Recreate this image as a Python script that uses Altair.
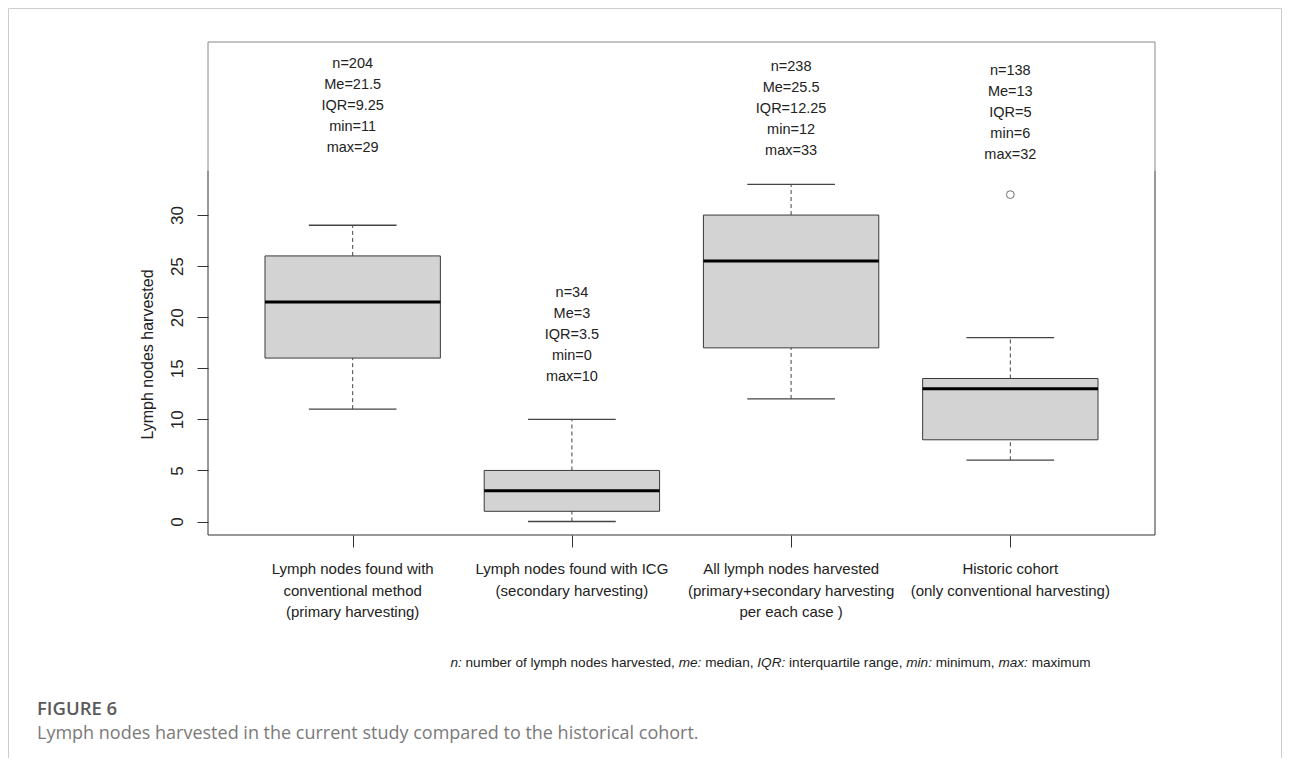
import altair as alt
import pandas as pd

# ---------------- data ----------------
categories = [
    ["Lymph nodes found with", "conventional method", "(primary harvesting)"],
    ["Lymph nodes found with ICG", "(secondary harvesting)"],
    ["All lymph nodes harvested", "(primary+secondary harvesting", "per each case )"],
    ["Historic cohort", "(only conventional harvesting)"],
]
positions = [1, 2, 3, 4]
whisker_low = [11, 0, 12, 6]
q1 = [16, 1, 17, 8]
median = [21.5, 3, 25.5, 13]
q3 = [26, 5, 30, 14]
whisker_high = [29, 10, 33, 18]
outlier_pos = [4]
outlier_val = [32]
n_vals = ["204", "34", "238", "138"]
me_vals = ["21.5", "3", "25.5", "13"]
iqr_vals = ["9.25", "3.5", "12.25", "5"]
min_vals = ["11", "0", "12", "6"]
max_vals = ["29", "10", "33", "32"]
y_ticks = [0, 5, 10, 15, 20, 25, 30]
footnote = [("n:", True), ("number of lymph nodes harvested,", False),
            ("me:", True), ("median,", False),
            ("IQR:", True), ("interquartile range,", False),
            ("min:", True), ("minimum,", False),
            ("max:", True), ("maximum", False)]
fig_label = "FIGURE 6"
caption = "Lymph nodes harvested in the current study compared to the historical cohort."
y_title = "Lymph nodes harvested"

# ---------------- layout / style ----------------
W, H = 947, 493
BOX_HALF, CAP_HALF = 0.4, 0.2
REG = "Liberation Sans, Arial, sans-serif"
ann_top = [14.5, 243.5, 17.5, 21.5]
FOOT_SIZE = 13.6
foot_center = 562.5
foot_y = 621

# Arial / Liberation Sans advance widths (per 1000 em) for footnote layout
_w = {'a': 556, 'b': 556, 'c': 500, 'd': 556, 'e': 556, 'f': 278, 'g': 556, 'h': 556,
      'i': 222, 'j': 222, 'k': 500, 'l': 222, 'm': 833, 'n': 556, 'o': 556, 'p': 556,
      'q': 556, 'r': 333, 's': 500, 't': 278, 'u': 556, 'v': 500, 'w': 722, 'x': 500,
      'y': 500, 'z': 500, ' ': 278, ',': 278, ':': 278, '.': 278, 'I': 278, 'Q': 778,
      'R': 722}


def text_width(s, size):
    return sum(_w.get(ch, 556) for ch in s) * size / 1000.0


space_w = text_width(" ", FOOT_SIZE)
seg_w = [text_width(t, FOOT_SIZE) for t, _ in footnote]
total_w = sum(seg_w) + space_w * (len(footnote) - 1)
x0 = foot_center - total_w / 2
foot_x = []
for wdt in seg_w:
    foot_x.append(x0)
    x0 += wdt + space_w

df = pd.DataFrame({
    "pos": positions, "wlo": whisker_low, "q1": q1, "med": median,
    "q3": q3, "whi": whisker_high,
})
df["lo"] = df["pos"] - BOX_HALF
df["hi"] = df["pos"] + BOX_HALF
df["clo"] = df["pos"] - CAP_HALF
df["chi"] = df["pos"] + CAP_HALF
df["ann"] = [[f"n={a}", f"Me={b}", f"IQR={c}", f"min={d}", f"max={e}"]
             for a, b, c, d, e in zip(n_vals, me_vals, iqr_vals, min_vals, max_vals)]
df["lab"] = categories
out_df = pd.DataFrame({"pos": outlier_pos, "val": outlier_val})

xs = alt.Scale(domain=[0.34, 4.66], nice=False, zero=False)
ys = alt.Scale(domain=[-1.32, 46.94], nice=False, zero=False)

x_axis = alt.Axis(values=positions, labels=False, tickSize=12, domain=False, grid=False,
                  title=None, tickColor="#333333", tickWidth=1)
y_axis = alt.Axis(
    values=y_ticks, labelAngle=270, labelAlign="center", labelBaseline="bottom",
    labelFont=REG, labelFontSize=17, labelColor="#222222", labelPadding=11,
    tickSize=11, tickColor="#333333", tickWidth=1, domain=False, grid=False,
    title=y_title, titleFont=REG, titleFontSize=16, titleFontWeight="normal",
    titleColor="#222222", titleAngle=270, titleX=-61, titleY=312,
    titleAlign="center", titleBaseline="middle")


def X(f):
    return alt.X(f, scale=xs, axis=x_axis)


def Y(f):
    return alt.Y(f, scale=ys, axis=y_axis)


base = alt.Chart(df)

box = base.mark_rect(fill="#d3d3d3", stroke="#3a3a3a", strokeWidth=1).encode(
    x=X("lo:Q"), x2="hi:Q", y=Y("q1:Q"), y2="q3:Q")
whisk_hi = base.mark_rule(color="#444444", strokeDash=[4, 3], strokeWidth=1).encode(
    x=X("pos:Q"), y=Y("q3:Q"), y2="whi:Q")
whisk_lo = base.mark_rule(color="#444444", strokeDash=[4, 3], strokeWidth=1).encode(
    x=X("pos:Q"), y=Y("wlo:Q"), y2="q1:Q")
cap_hi = base.mark_rule(color="#444444", strokeWidth=1.3).encode(
    x=X("clo:Q"), x2="chi:Q", y=Y("whi:Q"))
cap_lo = base.mark_rule(color="#444444", strokeWidth=1.3).encode(
    x=X("clo:Q"), x2="chi:Q", y=Y("wlo:Q"))
med = base.mark_rule(color="#000000", strokeWidth=3).encode(
    x=X("lo:Q"), x2="hi:Q", y=Y("med:Q"))
outl = alt.Chart(out_df).mark_point(shape="circle", filled=False, size=60,
                                     color="#333333", strokeWidth=1).encode(
    x=X("pos:Q"), y=Y("val:Q"))

layers = [box, whisk_hi, whisk_lo, cap_hi, cap_lo, med, outl]

# annotations above boxes
for i in range(len(positions)):
    layers.append(
        alt.Chart(df.iloc[[i]]).mark_text(font=REG, fontSize=14.5, lineHeight=21,
                                          baseline="top", align="center", color="#222222").encode(
            x=X("pos:Q"), y=alt.value(ann_top[i]), text="ann:N"))

# category labels
layers.append(
    base.mark_text(font=REG, fontSize=15, lineHeight=21.5, baseline="top",
                   align="center", color="#222222").encode(
        x=X("pos:Q"), y=alt.value(520), text="lab:N"))

# footnote (segments, italic keys)
for (txt, ital), fx in zip(footnote, foot_x):
    layers.append(
        alt.Chart(pd.DataFrame({"t": [txt]})).mark_text(
            font=REG, fontSize=FOOT_SIZE, fontStyle="italic" if ital else "normal",
            align="left", baseline="middle", color="#222222").encode(
            x=alt.value(fx), y=alt.value(foot_y), text="t:N"))

# figure label & caption
layers.append(alt.Chart(pd.DataFrame({"t": [fig_label]})).mark_text(
    font="Open Sans", fontSize=18.5, fontWeight=600, align="left", baseline="middle",
    color="#5a5a5a").encode(x=alt.value(-171), y=alt.value(667), text="t:N"))
layers.append(alt.Chart(pd.DataFrame({"t": [caption]})).mark_text(
    font="Open Sans", fontSize=18, align="left", baseline="middle",
    color="#7a7a7a").encode(x=alt.value(-171), y=alt.value(692), text="t:N"))

# plot frame
one = alt.Chart(pd.DataFrame({"a": [0]}))
frame_dark = "#333333"
frame_light = "#888888"
layers += [
    one.mark_rule(color=frame_dark).encode(x=alt.value(0), x2=alt.value(W), y=alt.value(H)),
    one.mark_rule(color=frame_light).encode(x=alt.value(0), x2=alt.value(W), y=alt.value(0)),
    one.mark_rule(color=frame_light).encode(x=alt.value(0), y=alt.value(0), y2=alt.value(128.8)),
    one.mark_rule(color=frame_dark).encode(x=alt.value(0), y=alt.value(128.8), y2=alt.value(H)),
    one.mark_rule(color=frame_light).encode(x=alt.value(W), y=alt.value(0), y2=alt.value(128.8)),
    one.mark_rule(color=frame_dark).encode(x=alt.value(W), y=alt.value(128.8), y2=alt.value(H)),
    # outer card border
    one.mark_rule(color="#cccccc").encode(x=alt.value(-199.5), y=alt.value(-33.5), y2=alt.value(716)),
    one.mark_rule(color="#cccccc").encode(x=alt.value(1073.5), y=alt.value(-33.5), y2=alt.value(716)),
    one.mark_rule(color="#cccccc").encode(x=alt.value(-199.5), x2=alt.value(1073.5), y=alt.value(-33.5)),
]

chart = alt.layer(*layers).properties(
    width=W, height=H,
    padding={"left": 200, "top": 34, "right": 127, "bottom": 223},
    autosize=alt.AutoSizeParams(type="none"),
    background="white",
).configure_view(stroke=None)

chart.save("out.html", embed_options={"renderer": "svg", "actions": False})
